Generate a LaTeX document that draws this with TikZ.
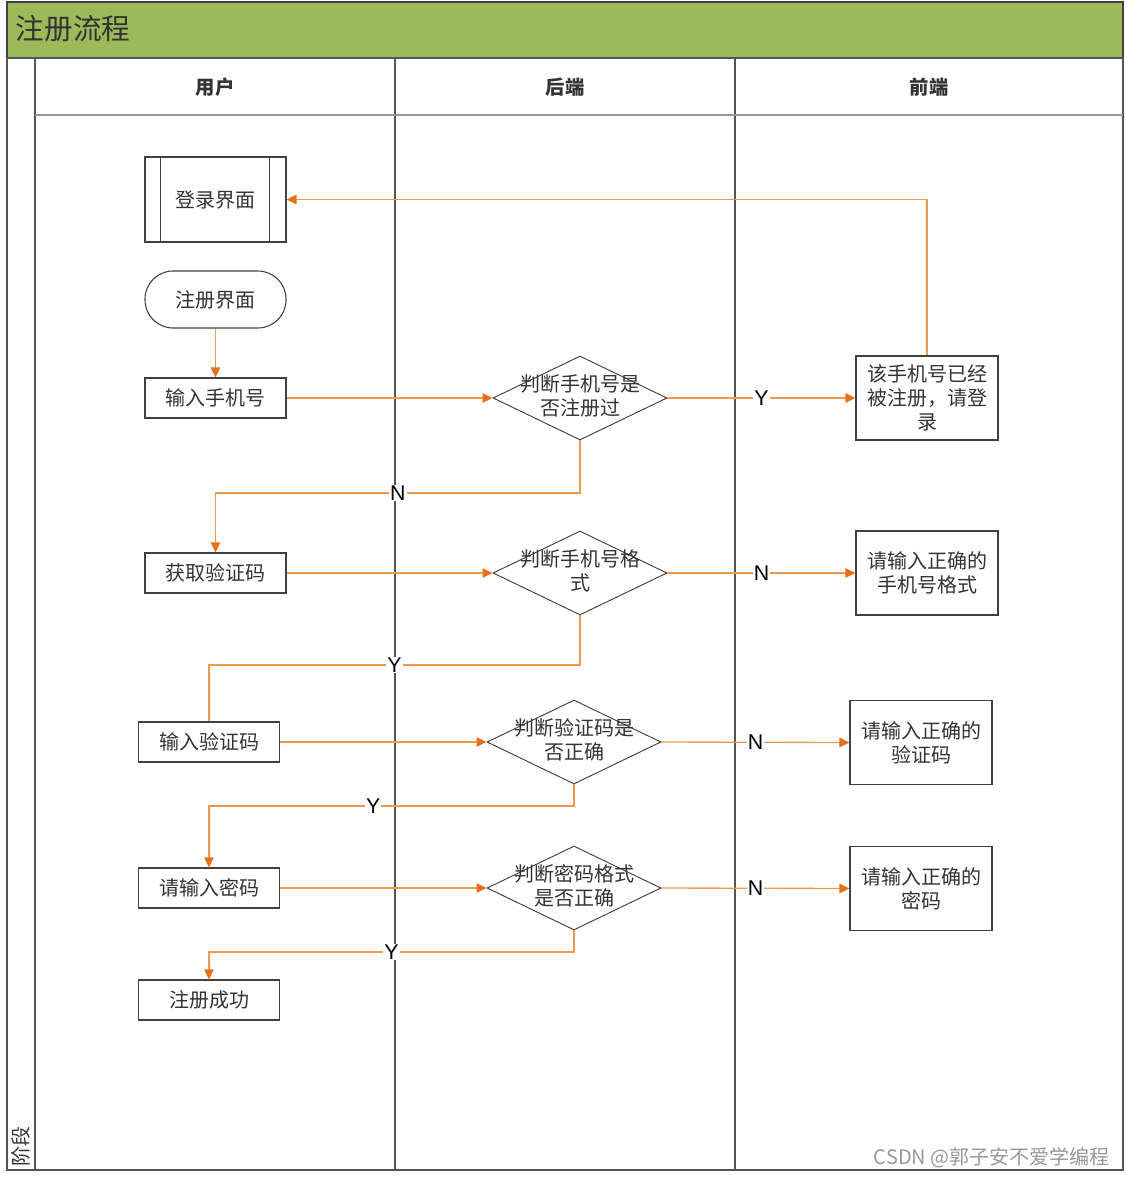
\documentclass[tikz,border=0pt]{standalone}
\usepackage{fontspec}
\setmainfont{Noto Sans CJK SC}
\newfontfamily\latinsans{Liberation Sans}
\usetikzlibrary{shapes.geometric,arrows.meta}
\definecolor{flow}{HTML}{EE9A4E}
\definecolor{tip}{HTML}{E8701A}
\definecolor{titlegreen}{HTML}{9BBB59}
\definecolor{frame}{HTML}{404040}
\definecolor{txt}{HTML}{333333}
\tikzset{
  box/.style={draw=frame, line width=0.8pt, fill=white, minimum width=105.75pt, minimum height=30pt, inner sep=0pt, text=txt, font=\fontsize{15pt}{18pt}\selectfont, align=center},
  rbox/.style={box, minimum width=106.5pt, minimum height=63pt},
  term/.style={box, minimum height=42.75pt, rounded corners=21pt},
  predef/.style={box, minimum height=63.75pt},
  dia/.style={draw=frame, line width=0.7pt, fill=white, shape=diamond, aspect=2.07, minimum width=130.5pt, minimum height=63pt, inner sep=0pt},
  dtext/.style={text=txt, font=\fontsize{15pt}{18pt}\selectfont, align=center, inner sep=0pt},
  flowline/.style={draw=flow, line width=1pt},
  arr/.style={flowline, -{Triangle[length=7.5pt, width=7pt, fill=tip, color=tip]}},
  yn/.style={fill=white, inner sep=0.8pt, font=\latinsans\fontsize{16pt}{18pt}\selectfont, text=black},
  lane/.style={draw=frame!90, line width=0.8pt},
  hdr/.style={font=\bfseries\fontsize{14.5pt}{16pt}\selectfont, text=txt}
}
\begin{document}
\begin{tikzpicture}[x=0.75pt, y=-0.75pt]
\useasboundingbox (0,0) rectangle (1125,1177);
% frame and title
\fill[white] (0,0) rectangle (1125,1177);
\draw[frame, line width=0.9pt, fill=titlegreen] (7,2) rectangle (1123,58);
\node[anchor=west, text=txt, font=\fontsize{21.5pt}{24pt}\selectfont] (title) at (11,29) {注册流程};
\draw[lane] (7,58) rectangle (1123,1170);
\draw[lane] (35,58) -- (35,1170);
\draw[lane] (395,58) -- (395,1170);
\draw[lane] (735,58) -- (735,1170);
\draw[draw=black!40, line width=1.2pt] (35,115) -- (1123,115);
\node[hdr] (h1) at (215,87) {用户};
\node[hdr] (h2) at (565,87) {后端};
\node[hdr] (h3) at (929,87) {前端};
\node[rotate=90, anchor=west, text=txt, font=\fontsize{15pt}{16pt}\selectfont, inner sep=0pt] (stage) at (21,1167) {阶段};
% nodes
\node[predef] (login) at (215.5,199.5) {登录界面};
\draw[frame, line width=0.8pt] ([xshift=12pt]login.north west) -- ([xshift=12pt]login.south west);
\draw[frame, line width=0.8pt] ([xshift=-12.5pt]login.north east) -- ([xshift=-12.5pt]login.south east);
\node[term] (reg) at (215.5,299.5) {注册界面};
\node[box] (phone) at (215.5,398) {输入手机号};
\node[dia] (d1) at (580,398) {};
\node[dtext] (d1t) at (580,396) {判断手机号是\\否注册过};
\node[rbox] (r1) at (927,398) {该手机号已经\\被注册，请登\\录};
\node[box] (code) at (215.5,573) {获取验证码};
\node[dia] (d2) at (580,573) {};
\node[dtext] (d2t) at (580,571) {判断手机号格\\式};
\node[rbox] (r2) at (927,573) {请输入正确的\\手机号格式};
\node[box] (incode) at (209,742) {输入验证码};
\node[dia] (d3) at (574,742) {};
\node[dtext] (d3t) at (574,740) {判断验证码是\\否正确};
\node[rbox] (r3) at (921,742.5) {请输入正确的\\验证码};
\node[box] (pwd) at (209,888) {请输入密码};
\node[dia] (d4) at (574,888) {};
\node[dtext] (d4t) at (574,886) {判断密码格式\\是否正确};
\node[rbox] (r4) at (921,888.5) {请输入正确的\\密码};
\node[box] (ok) at (209,1000) {注册成功};
% connectors
\draw[arr] (reg.south) -- (phone.north);
\draw[arr] (phone.east) -- (d1.west);
\draw[arr] (d1.east) -- node[yn] {Y} (r1.west);
\draw[arr] (r1.north) |- (login.east);
\draw[arr] (d1.south) -- (d1.south |- 0,493) -- node[yn] {N} (code.north |- 0,493) -- (code.north);
\draw[arr] (code.east) -- (d2.west);
\draw[arr] (d2.east) -- node[yn] {N} (r2.west);
\draw[flowline] (d2.south) -- (d2.south |- 0,665) -- node[yn] {Y} (incode.north |- 0,665) -- (incode.north);
\draw[arr] (incode.east) -- (d3.west);
\draw[arr] (d3.east) -- node[yn] {N} (r3.west);
\draw[arr] (d3.south) -- (d3.south |- 0,806) -- node[yn, pos=0.55] {Y} (pwd.north |- 0,806) -- (pwd.north);
\draw[arr] (pwd.east) -- (d4.west);
\draw[arr] (d4.east) -- node[yn] {N} (r4.west);
\draw[arr] (d4.south) -- (d4.south |- 0,952) -- node[yn] {Y} (ok.north |- 0,952) -- (ok.north);
% watermark
\node[anchor=east, text=black!40, font=\fontsize{15pt}{16pt}\selectfont, inner sep=0pt] (wm) at (1110,1158) {CSDN @郭子安不爱学编程};
\end{tikzpicture}
\end{document}
